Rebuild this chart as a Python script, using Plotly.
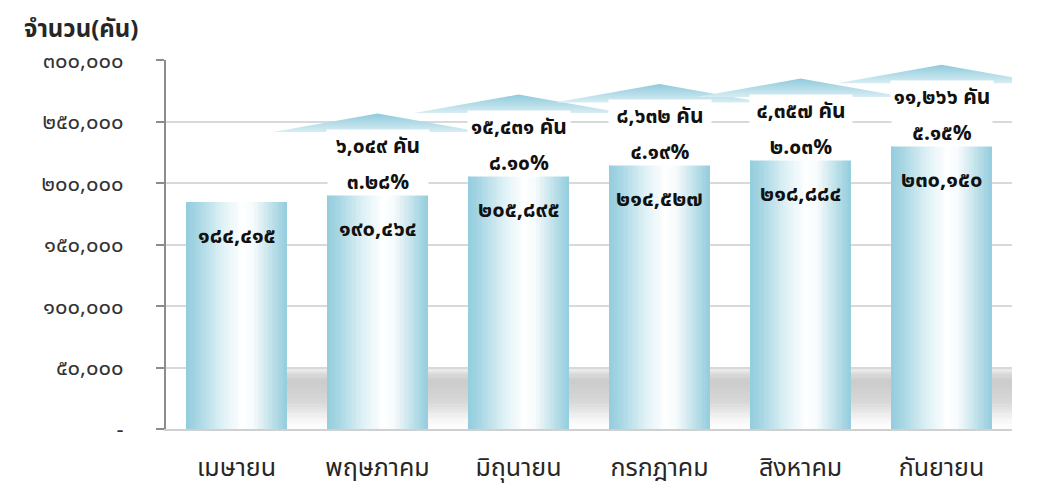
import plotly.graph_objects as go

# ---- data ----
months = ["เมษายน", "พฤษภาคม", "มิถุนายน", "กรกฎาคม", "สิงหาคม", "กันยายน"]
vehicles = [184415, 190464, 205895, 214527, 218884, 230150]
increase = [None, 6049, 15431, 8632, 4357, 11266]
increase_pct = [None, 3.28, 8.10, 4.19, 2.03, 5.15]
y_tickvals = [0, 50000, 100000, 150000, 200000, 250000, 300000]
y_ticktext = ["-", "๕๐,๐๐๐", "๑๐๐,๐๐๐", "๑๕๐,๐๐๐", "๒๐๐,๐๐๐", "๒๕๐,๐๐๐", "๓๐๐,๐๐๐"]
y_title = "จำนวน(คัน)"
unit = "คัน"

THAI = str.maketrans("0123456789", "๐๑๒๓๔๕๖๗๘๙")


def thai(s):
    return str(s).translate(THAI)


def hex2rgb(h):
    h = h.lstrip("#")
    return tuple(int(h[k:k + 2], 16) for k in (0, 2, 4))


def interp(stops, t):
    for (t0, c0), (t1, c1) in zip(stops, stops[1:]):
        if t0 <= t <= t1:
            f = 0 if t1 == t0 else (t - t0) / (t1 - t0)
            a, b = hex2rgb(c0), hex2rgb(c1)
            return "rgb(%d,%d,%d)" % tuple(round(a[k] + (b[k] - a[k]) * f) for k in range(3))
    return stops[-1][1]


FONT = "Noto Sans Thai, Tahoma, Noto Sans, DejaVu Sans, sans-serif"
BAR_W = 0.71
N_SLICES = 40
bar_stops = [(0.0, "#93cddd"), (0.12, "#a9d7e4"), (0.35, "#dcf0f5"),
             (0.55, "#ffffff"), (0.66, "#f7fbfd"), (0.85, "#bfe1ea"), (1.0, "#93cddd")]
# vertical shade of the floor shadow (0 = ground, 1 = top of band)
shadow_stops = [(0.0, "#ffffff"), (0.15, "#f7f7f7"), (0.45, "#d8d8d8"),
                (0.8, "#cbcbcb"), (0.92, "#dadada"), (1.0, "#eeeeee")]
SHADOW_TOP = 48500
N_BANDS = 24

xs = list(range(len(months)))
fig = go.Figure()

# floor shadow behind the bars (drawn first, as horizontal bands)
band_h = SHADOW_TOP / N_BANDS
for k in range(N_BANDS):
    t = (k + 0.5) / N_BANDS
    fig.add_trace(go.Bar(
        x=[2.78], y=[band_h * 1.02], base=[k * band_h], width=5.55,
        marker=dict(color=interp(shadow_stops, t), line=dict(width=0)),
        hoverinfo="skip", showlegend=False))

# bars: horizontal gradient made of thin slices of the same bar trace
for j in range(N_SLICES):
    t = (j + 0.5) / N_SLICES
    fig.add_trace(go.Bar(
        x=xs, y=vehicles, width=BAR_W / N_SLICES * 1.02,
        offset=-BAR_W / 2 + j * BAR_W / N_SLICES,
        marker=dict(color=interp(bar_stops, t), line=dict(width=0)),
        hoverinfo="skip", showlegend=False))

# up arrows (heads) above bars 2..6
for i, v in enumerate(vehicles):
    if increase[i] is None:
        continue
    apex = v + 66000
    base = apex - 15000
    hw = 0.74
    fig.add_trace(go.Scatter(
        x=[i - hw, i, i + hw, i - hw], y=[base, apex, base, base],
        mode="lines", line=dict(width=0), fill="toself",
        fillgradient=dict(type="vertical", colorscale=[[0, "#d7edf3"], [1, "#8ecadb"]]),
        hoverinfo="skip", showlegend=False))

annotations = []
for i, v in enumerate(vehicles):
    annotations.append(dict(
        x=i, y=v - 28000, xref="x", yref="y", showarrow=False,
        text="<b>%s</b>" % thai(f"{v:,}"),
        font=dict(size=22, color="#111111", family=FONT)))
    if increase[i] is not None:
        annotations.append(dict(
            x=i, y=v + 40000, xref="x", yref="y", showarrow=False,
            text="<b>%s %s</b>" % (thai(f"{increase[i]:,}"), unit),
            font=dict(size=21, color="#111111", family=FONT),
            bgcolor="#ffffff", width=100, height=30))
        annotations.append(dict(
            x=i, y=v + 10500, xref="x", yref="y", showarrow=False,
            text="<b>%s%%</b>" % thai(f"{increase_pct[i]:.2f}"),
            font=dict(size=21, color="#111111", family=FONT),
            bgcolor="#ffffff", width=98, height=24))

annotations.append(dict(
    x=-0.17, y=1.082, xref="paper", yref="paper", xanchor="left", yanchor="middle",
    showarrow=False, text="<b>%s</b>" % y_title,
    font=dict(size=24, color="#262626", family=FONT)))

fig.update_layout(
    width=1046, height=490,
    margin=dict(l=158, r=42, t=52, b=69),
    paper_bgcolor="#ffffff", plot_bgcolor="#ffffff",
    barmode="overlay", bargap=0,
    showlegend=False,
    font=dict(family=FONT, color="#262626"),
    annotations=annotations,
    xaxis=dict(
        range=[-0.5, 5.5], tickvals=xs, ticktext=months,
        showgrid=False, zeroline=False, automargin=False,
        showline=True, linecolor="#d0d0d0", linewidth=2,
        ticks="", ticklabelstandoff=15,
        tickfont=dict(size=25, color="#262626", family=FONT)),
    yaxis=dict(
        range=[0, 300000], tickvals=y_tickvals, ticktext=y_ticktext,
        showgrid=True, gridcolor="#d9d9d9", gridwidth=2,
        zeroline=False, automargin=False,
        showline=True, linecolor="#8c8c8c", linewidth=2,
        ticks="outside", ticklen=8, tickcolor="#8c8c8c", tickwidth=2,
        ticklabelstandoff=28,
        tickfont=dict(size=22, color="#333333", family=FONT)),
)

fig.write_html("out.html")
